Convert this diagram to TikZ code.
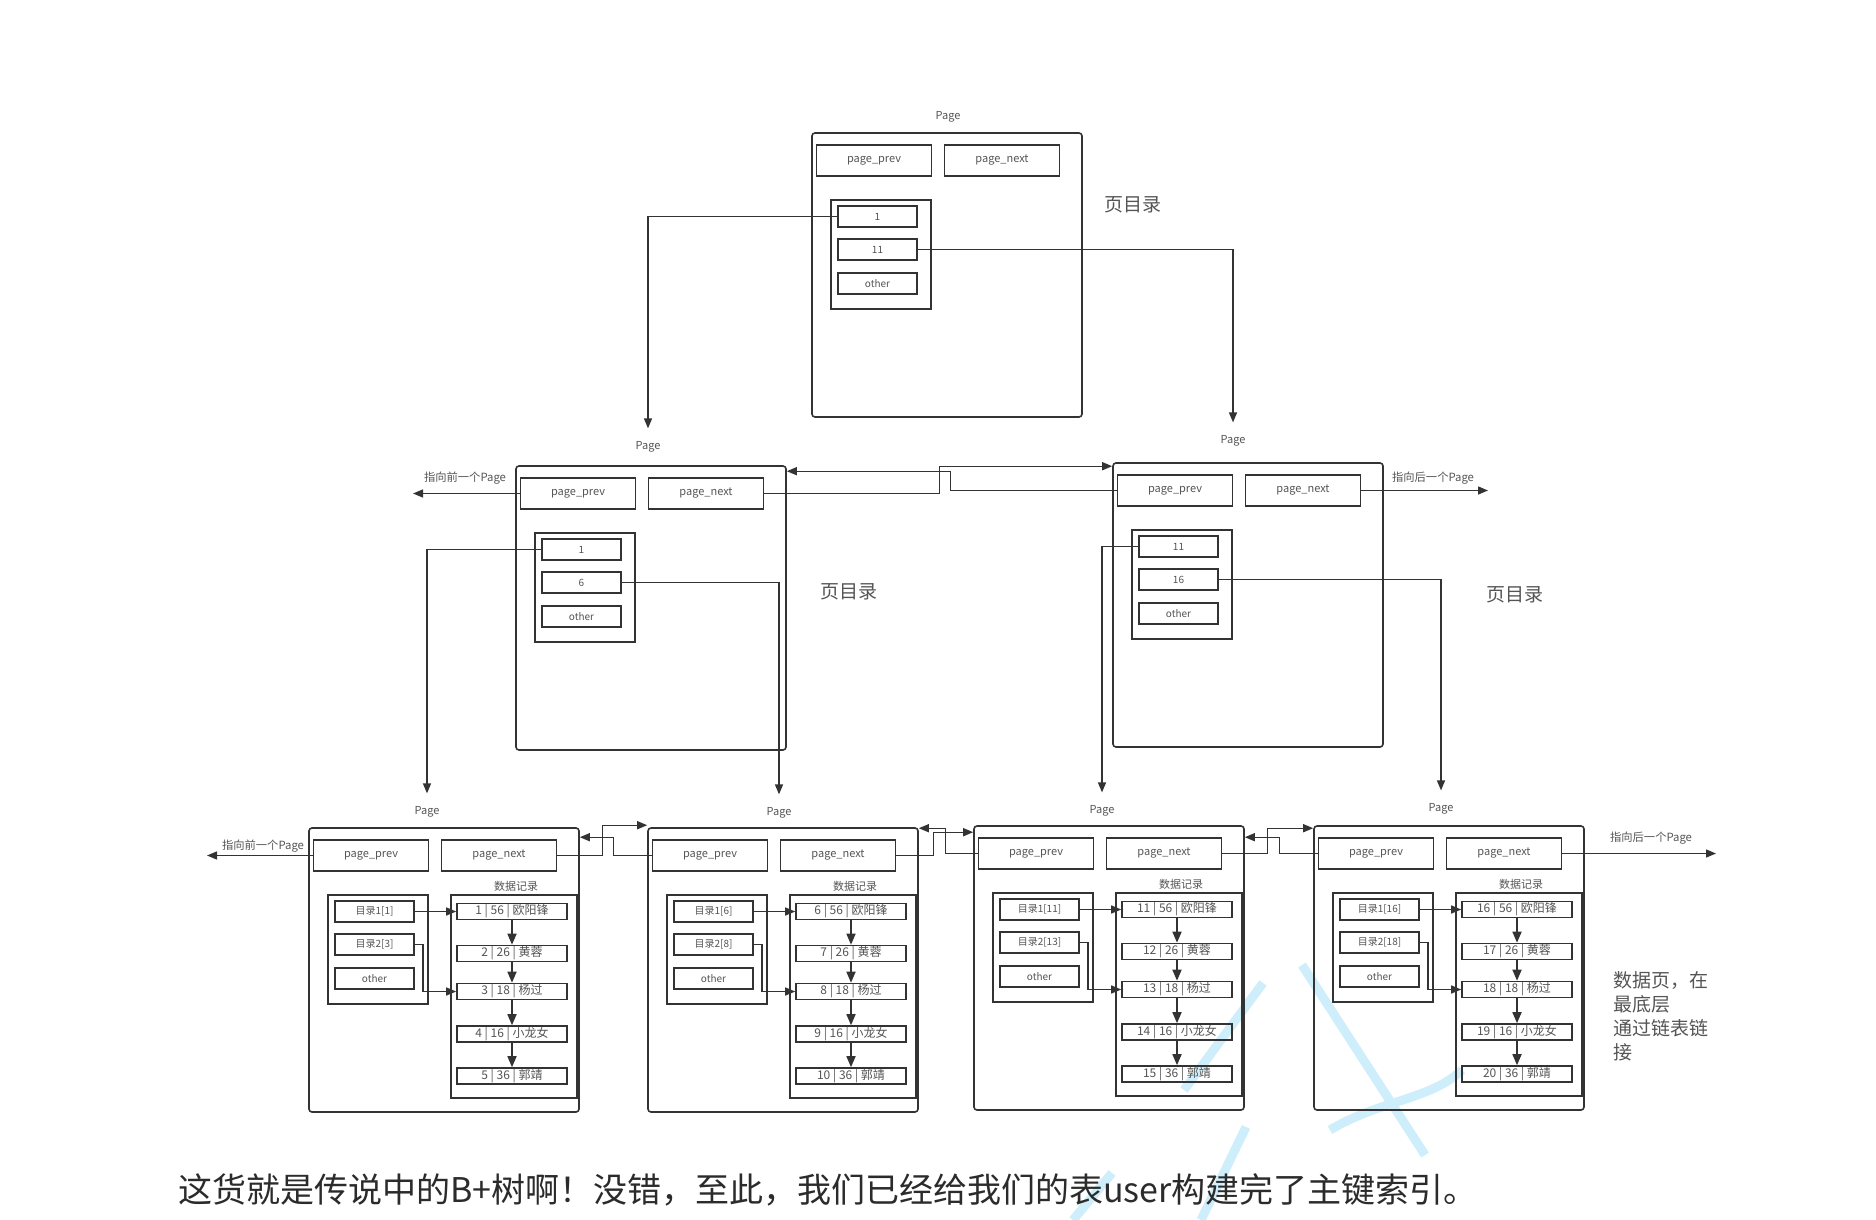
\documentclass[tikz,border=0pt]{standalone}
\usepackage{fontspec}
\setmainfont{Noto Sans CJK SC}
\usetikzlibrary{arrows.meta,calc}
\definecolor{ln}{HTML}{333333}
\definecolor{tx}{HTML}{555555}
\definecolor{cap}{HTML}{2B2B2B}
\definecolor{wm}{HTML}{CDEEFA}
\tikzset{
  frm/.style={draw=ln, line width=1.6pt, rounded corners=3pt, minimum width=270pt, minimum height=284pt, inner sep=0pt},
  box/.style={draw=ln, line width=1.6pt, inner sep=0pt},
  fld/.style={draw=ln, line width=1.6pt, minimum width=115pt, minimum height=31pt, inner sep=0pt, text=tx, font=\fontsize{11}{13}\selectfont},
  ent/.style={draw=ln, line width=1.6pt, minimum width=79pt, minimum height=21pt, inner sep=0pt, text=tx, font=\fontsize{10}{12}\selectfont},
  rec/.style={draw=ln, line width=1.6pt, minimum width=110pt, minimum height=16pt, inner sep=0pt, text=tx, font=\fontsize{12}{13}\selectfont},
  lbl/.style={text=tx, font=\fontsize{11}{13}\selectfont, inner sep=2pt},
  side/.style={text=tx, font=\fontsize{11.3}{13}\selectfont, inner sep=1pt},
  big/.style={text=tx, font=\fontsize{19}{24}\selectfont},
  conn/.style={draw=ln, line width=1.4pt},
  arr/.style={conn, -{Triangle[length=10pt,width=8pt]}},
  arrb/.style={conn, line width=1.6pt, -{Triangle[length=11pt,width=9pt]}},
  wmark/.style={draw=wm, line width=9pt},
}
\newcommand\dirpage[5]{%
  \begin{scope}[shift={(#2,#3)}]
    \node[frm] (#1) at (135,142) {};
    \node[fld] (#1p) at (62,27.5) {page\_prev};
    \node[fld] (#1n) at (190,27.5) {page\_next};
    \node[box, minimum width=100pt, minimum height=109pt] (#1d) at (69,121.5) {};
    \node[ent] (#1e1) at (65.5,83.5) {#4};
    \node[ent] (#1e2) at (65.5,116.5) {#5};
    \node[ent] (#1e3) at (65.5,150.5) {other};
  \end{scope}}
\newcommand\datapage[6]{%
  \begin{scope}[shift={(#2,#3)}]
    \node[frm] (#1) at (135,142) {};
    \node[fld] (#1p) at (62,27.5) {page\_prev};
    \node[fld] (#1n) at (190,27.5) {page\_next};
    \node[lbl] (#1t) at (207,58) {数据记录};
    \node[box, minimum width=100pt, minimum height=109pt] (#1d) at (69,121.5) {};
    \node[ent] (#1a) at (65.5,83.5) {#4};
    \node[ent] (#1b) at (65.5,116.5) {#5};
    \node[ent] (#1c) at (65.5,150.5) {other};
    \node[box, minimum width=126pt, minimum height=203pt] (#1r) at (205,168.5) {};
    \node[rec] (#1r1) at (203,83.5) {#6 | 56 | 欧阳锋};
    \node[rec] (#1r2) at (203,125.5) {\the\numexpr#6+1\relax{} | 26 | 黄蓉};
    \node[rec] (#1r3) at (203,163.5) {\the\numexpr#6+2\relax{} | 18 | 杨过};
    \node[rec] (#1r4) at (203,206) {\the\numexpr#6+3\relax{} | 16 | 小龙女};
    \node[rec] (#1r5) at (203,248) {\the\numexpr#6+4\relax{} | 36 | 郭靖};
  \end{scope}
  \draw[arr] (#1a.east) -- (#1r1.west);
  \draw[arr] (#1b.east) -- ++(8,0) |- (#1r3.west);
  \draw[arrb] (#1r1) -- (#1r2);
  \draw[arrb] (#1r2) -- (#1r3);
  \draw[arrb] (#1r3) -- (#1r4);
  \draw[arrb] (#1r4) -- (#1r5);}
\begin{document}
\begin{tikzpicture}[x=1pt,y=-1pt]
\fill[white] (0,0) rectangle (1876,1220);
\useasboundingbox (0,0) rectangle (1876,1220);
% watermark
\draw[wmark] (1302,965) -- (1425,1155);
\draw[wmark] (1184,1090) -- (1263,983);
\draw[wmark] (1246,1127) -- (1201,1220);
\draw[wmark] (1112,1173) -- (1073,1220);
\draw[wmark] (1330,1130) .. controls (1380,1100) and (1430,1100) .. (1462,1070);
% pages
\dirpage{T}{812}{133}{1}{11}
\dirpage{ML}{516}{466}{1}{6}
\dirpage{MR}{1113}{463}{11}{16}
\datapage{Ba}{309}{828}{目录1[1]}{目录2[3]}{1}
\datapage{Bb}{648}{828}{目录1[6]}{目录2[8]}{6}
\datapage{Bc}{974}{826}{目录1[11]}{目录2[13]}{11}
\datapage{Bd}{1314}{826}{目录1[16]}{目录2[18]}{16}
% page labels
\node[lbl] (Tl) at (948,117) {Page};
\node[lbl] (MLl) at (648,447) {Page};
\node[lbl] (MRl) at (1233,441) {Page};
\node[lbl] (Bal) at (427,812) {Page};
\node[lbl] (Bbl) at (779,813) {Page};
\node[lbl] (Bcl) at (1102,811) {Page};
\node[lbl] (Bdl) at (1441,809) {Page};
% tree links
\draw[arr] (Te1.west) -| ([yshift=11pt]MLl.north);
\draw[arr] (Te2.east) -| ([yshift=11pt]MRl.north);
\draw[arr] (MLe1.west) -| ([yshift=11pt]Bal.north);
\draw[arr] (MLe2.east) -| ([yshift=11pt]Bbl.north);
\draw[arr] (MRe1.west) -| ([yshift=11pt]Bcl.north);
\draw[arr] (MRe2.east) -| ([yshift=11pt]Bdl.north);
% sibling links, middle level
\draw[arr] (MLn.east) -- ++(175,0) |- ([yshift=-4pt]MR.north west);
\draw[arr] (MRp.west) -- ++(-166,0) |- ([yshift=-6pt]ML.north east);
% sibling links, bottom level
\draw[arr] (Ban.east) -- ++(45,0) |- ([yshift=2pt]Bb.north west);
\draw[arr] (Bbp.west) -- ++(-38,0) |- ([yshift=-10pt]Ba.north east);
\draw[arr] (Bbn.east) -- ++(37,0) |- ([yshift=-7pt]Bc.north west);
\draw[arr] (Bcp.west) -- ++(-32,0) |- ([yshift=-1pt]Bb.north east);
\draw[arr] (Bcn.east) -- ++(45,0) |- ([yshift=-3pt]Bd.north west);
\draw[arr] (Bdp.west) -- ++(-38,0) |- ([yshift=-12pt]Bc.north east);
% outer links
\coordinate (MLo) at (413,493.5);
\coordinate (MRo) at (1488,490.5);
\coordinate (Bao) at (207,855.5);
\coordinate (Bdo) at (1716,853.5);
\draw[arr] (MLp.west) -- (MLo);
\draw[arr] (MRn.east) -- (MRo);
\draw[arr] (Bap.west) -- (Bao);
\draw[arr] (Bdn.east) -- (Bdo);
\node[side] (MLol) at (465,478) {指向前一个Page};
\node[side] (MRol) at (1433,478) {指向后一个Page};
\node[side] (Baol) at (263,846) {指向前一个Page};
\node[side] (Bdol) at (1651,838) {指向后一个Page};
% captions
\node[big] (Tdir) at (1133,205) {页目录};
\node[big] (MLdir) at (849,592) {页目录};
\node[big] (MRdir) at (1515,595) {页目录};
\node[big, align=left, anchor=north west, inner sep=0pt] (note) at (1613,971) {数据页，在\\最底层\\通过链表链\\接};
\node[text=cap, font=\fontsize{34}{40}\selectfont] (caption) at (828,1190) {这货就是传说中的B+树啊！没错，至此，我们已经给我们的表user构建完了主键索引。};
\end{tikzpicture}
\end{document}
